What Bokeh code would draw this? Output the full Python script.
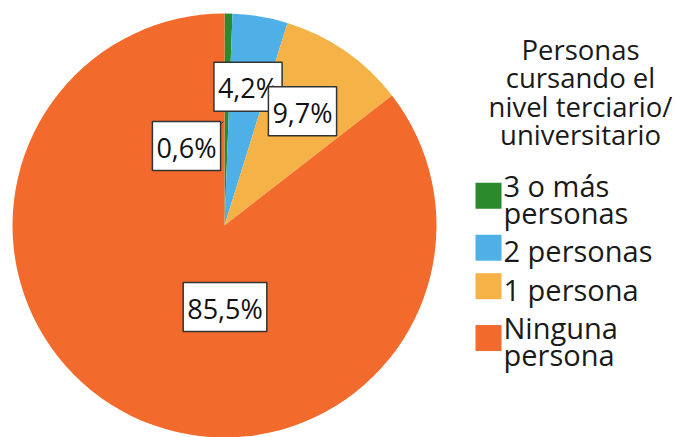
import math
from bokeh.plotting import figure
from bokeh.models import Range1d, Label, ColumnDataSource
from bokeh.embed import file_html
from bokeh.resources import INLINE

# ---- data ----
categories = ["3 o más personas", "2 personas", "1 persona", "Ninguna persona"]
values = [0.6, 4.2, 9.7, 85.5]
legend_lines = [["3 o más", "personas"], ["2 personas"], ["1 persona"], ["Ninguna", "persona"]]
legend_title = ["Personas", "cursando el", "nivel terciario/", "universitario"]

# ---- styles ----
colors = ["#2b8a2b", "#4eb0e6", "#f5b246", "#f26a2c"]
FONT = "Open Sans"
W, H = 682, 437
cx, cy, R = 224, 212, 212
label_offsets = [(-38, 79.5), (23.5, 138.8), (78, 114.2), (0.5, -81.5)]

p = figure(width=W, height=H, x_range=Range1d(0, W), y_range=Range1d(0, H),
           x_axis_type=None, y_axis_type=None, toolbar_location=None,
           output_backend="svg", min_border=0, outline_line_color=None)
p.grid.visible = False
p.background_fill_color = "white"
p.border_fill_color = "white"

total = sum(values)
starts, ends = [], []
acc = 0.0
for v in values:
    a0 = math.pi / 2 - 2 * math.pi * acc / total
    acc += v
    a1 = math.pi / 2 - 2 * math.pi * acc / total
    starts.append(a0)
    ends.append(a1)

src = ColumnDataSource(dict(cat=categories, val=values, start=starts, end=ends, color=colors,
                            x=[cx] * len(values), y=[cy] * len(values)))
p.wedge(x="x", y="y", radius=R, radius_units="screen", start_angle="start", end_angle="end",
        direction="clock", fill_color="color", line_color=None, source=src)

# small leader line for the smallest slice label
p.segment(x0=[cx - 4], y0=[cy + 101], x1=[cx - 1], y1=[cy + 104],
          line_color="#333333", line_width=1)

# slice labels
for v, (dx, dy) in zip(values, label_offsets):
    txt = f"{v:.1f}".replace(".", ",") + "%"
    p.add_layout(Label(x=cx + dx, y=cy + dy, text=txt, text_font=FONT, text_font_size="27px",
                       text_color="#111111", text_align="center", text_baseline="middle",
                       background_fill_color="white", border_line_color="#333333",
                       border_line_width=1.5,
                       padding=dict(left=4, right=4, top=7, bottom=5)))

# legend title
title_x, title_base, title_lh = 580, 388, 28.3
for i, line in enumerate(legend_title):
    p.add_layout(Label(x=title_x, y=title_base - i * title_lh, text=line, text_font=FONT,
                       text_font_size="27.5px", text_color="#1a1a1a", text_align="center",
                       text_baseline="alphabetic"))

# legend items
y = 252.0
line_h, gap = 26.7, 11.8
tx, sq_x, sq = 503, 488, 26
sq_ys = []
for i, lines in enumerate(legend_lines):
    bases = []
    for line in lines:
        p.add_layout(Label(x=tx, y=y, text=line, text_font=FONT, text_font_size="29px",
                           text_color="#1a1a1a", text_align="left", text_baseline="alphabetic"))
        bases.append(y)
        y -= line_h
    y -= gap
    sq_ys.append(sum(bases) / len(bases) + 3)

p.rect(x=[sq_x] * len(colors), y=sq_ys, width=sq, height=sq, width_units="screen",
       height_units="screen", fill_color=colors, line_color=None)

open("out.html", "w").write(file_html(p, INLINE))
